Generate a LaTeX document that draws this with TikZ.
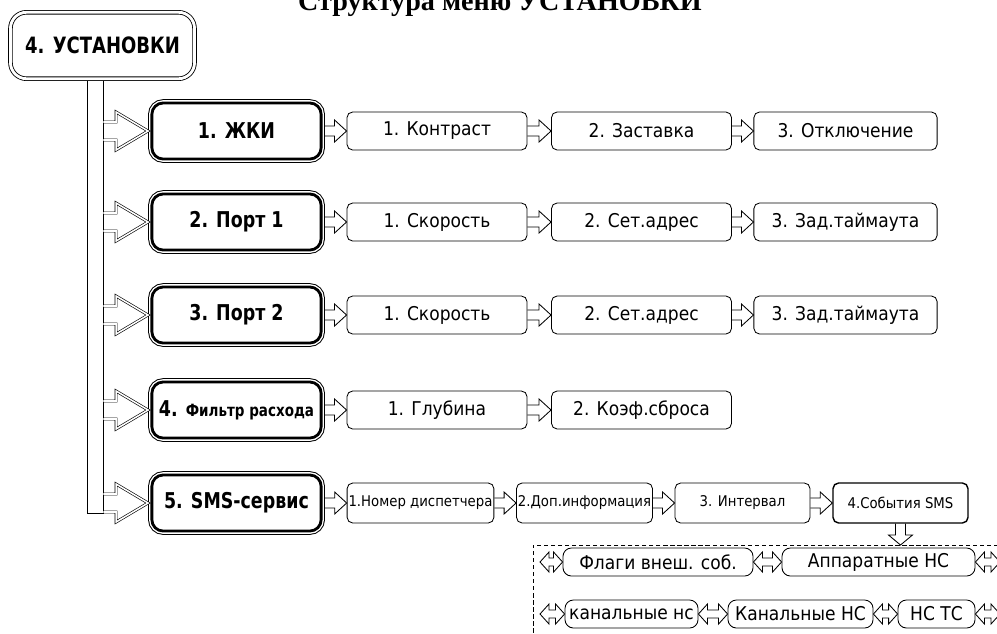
\documentclass[tikz,border=0pt]{standalone}
\usepackage{fontspec}
\newfontfamily\boxfont{DejaVu Sans}[FakeStretch=0.9]
\newfontfamily\headfont{DejaVu Sans}[FakeStretch=0.8]
\newfontfamily\titlefont{Liberation Serif}
\usetikzlibrary{calc}
\tikzset{
  rootbox/.style={draw, double, double distance=2pt, line width=0.6pt, fill=white,
    rounded corners=0.4cm, minimum width=4.6cm, minimum height=1.66cm,
    font=\headfont\bfseries\fontsize{16}{19}\selectfont},
  pipe/.style={draw, line width=0.6pt, fill=white, inner sep=0pt,
    minimum width=0.4cm, minimum height=10.85cm},
  mainbox/.style={draw, fill=white, line width=2pt, rounded corners=8pt, outer sep=2.7pt,
    minimum width=4.23cm, minimum height=1.4cm, inner sep=1pt,
    preaction={draw, line width=5.4pt}, preaction={draw=white, line width=4pt},
    font=\headfont\bfseries\fontsize{15.5}{18}\selectfont},
  subbox/.style={draw, fill=white, line width=0.6pt, rounded corners=4pt,
    minimum width=4.5cm, minimum height=0.95cm, inner sep=1pt,
    font=\boxfont\fontsize{13.5}{16}\selectfont},
  smsbox/.style={subbox, minimum width=3.375cm, minimum height=1cm,
    font=\boxfont\fontsize{10.5}{12}\selectfont},
  evbox/.style={subbox, rounded corners=6pt, minimum height=0.7cm, inner sep=0pt},
  fat/.style={draw, double, double distance=1.1pt, line width=0.45pt,
    to path={($(\tikztostart)+(0,9)$) -- ($(\tikztotarget)+(-32,9)$)
      -- ($(\tikztotarget)+(-32,19)$) -- (\tikztotarget) -- ($(\tikztotarget)+(-32,-19)$)
      -- ($(\tikztotarget)+(-32,-9)$) -- ($(\tikztostart)+(0,-9)$)}},
  slim/.style={draw, line width=0.6pt,
    to path={($(\tikztostart)+(0,5)$) -- ($(\tikztotarget)+(-12,5)$)
      -- ($(\tikztotarget)+(-12,11)$) -- (\tikztotarget) -- ($(\tikztotarget)+(-12,-11)$)
      -- ($(\tikztotarget)+(-12,-5)$) -- ($(\tikztostart)+(0,-5)$)}},
  both/.style={draw, line width=0.6pt,
    to path={-- ($(\tikztostart)+(9,10)$) -- ($(\tikztostart)+(9,4)$)
      -- ($(\tikztotarget)+(-9,4)$) -- ($(\tikztotarget)+(-9,10)$) -- (\tikztotarget)
      -- ($(\tikztotarget)+(-9,-10)$) -- ($(\tikztotarget)+(-9,-4)$)
      -- ($(\tikztostart)+(9,-4)$) -- ($(\tikztostart)+(9,-10)$) -- cycle}},
  down/.style={draw, line width=0.6pt,
    to path={($(\tikztostart)+(-5,0)$) -- ($(\tikztotarget)+(-5,-10)$)
      -- ($(\tikztotarget)+(-12,-10)$) -- (\tikztotarget) -- ($(\tikztotarget)+(12,-10)$)
      -- ($(\tikztotarget)+(5,-10)$) -- ($(\tikztostart)+(5,0)$)}}
}
\begin{document}
\begin{tikzpicture}[x=0.025cm, y=-0.025cm]
    \useasboundingbox (0,0) rectangle (997,633);
    \node[font=\titlefont\bfseries\fontsize{20}{24}\selectfont, anchor=base] (title) at (500,10) {Структура меню УСТАНОВКИ};

    \node[pipe, anchor=north] (bar) at (95,79) {};
    \node[rootbox] (root) at (102.5,45.5) {4. УСТАНОВКИ};

    \node[mainbox] (lcd) at (236.5,131) {1. ЖКИ};
    \node[mainbox] (port1) at (236.5,222) {2. Порт 1};
    \node[mainbox] (port2) at (236.5,315) {3. Порт 2};
    \node[mainbox] (filter) at (236.5,410) {4. {\fontsize{12}{14}\selectfont Фильтр расхода}};
    \node[mainbox] (sms) at (236.5,503) {5. SMS-сервис};
    \foreach \m in {lcd,port1,port2,filter,sms}
        \draw[fat] (bar.east |- \m.west) to (\m.west);

    \node[subbox] (lcd1) at (437,131) {1. Контраст};
    \node[subbox] (lcd2) at (641.5,131) {2. Заставка};
    \node[subbox, minimum width=4.58cm] (lcd3) at (845.5,131) {3. Отключение};
    \node[subbox] (porta1) at (437,222) {1. Скорость};
    \node[subbox] (porta2) at (641.5,222) {2. Сет.адрес};
    \node[subbox, minimum width=4.58cm] (porta3) at (845.5,222) {3. Зад.таймаута};
    \node[subbox] (portb1) at (437,315) {1. Скорость};
    \node[subbox] (portb2) at (641.5,315) {2. Сет.адрес};
    \node[subbox, minimum width=4.58cm] (portb3) at (845.5,315) {3. Зад.таймаута};
    \node[subbox] (filter1) at (437,410) {1. Глубина};
    \node[subbox] (filter2) at (641.5,410) {2. Коэф.сброса};
    \draw[slim] (lcd.east) to (lcd1.west);
    \draw[slim] (lcd1.east) to (lcd2.west);
    \draw[slim] (lcd2.east) to (lcd3.west);
    \draw[slim] (port1.east) to (porta1.west);
    \draw[slim] (porta1.east) to (porta2.west);
    \draw[slim] (porta2.east) to (porta3.west);
    \draw[slim] (port2.east) to (portb1.west);
    \draw[slim] (portb1.east) to (portb2.west);
    \draw[slim] (portb2.east) to (portb3.west);
    \draw[slim] (filter.east) to (filter1.west);
    \draw[slim] (filter1.east) to (filter2.west);

    \node[smsbox, minimum width=3.625cm] (sms1) at (420.5,503) {1.Номер диспетчера};
    \node[smsbox] (sms2) at (584.5,503) {2.Доп.информация};
    \node[smsbox] (sms3) at (742.5,503) {3. Интервал};
    \node[smsbox, line width=1pt] (sms4) at (900.5,503) {4.События SMS};
    \draw[slim] (sms.east) to (sms1.west);
    \draw[slim] (sms1.east) to (sms2.west);
    \draw[slim] (sms2.east) to (sms3.west);
    \draw[slim] (sms3.east) to (sms4.west);

    \draw[dashed, line width=0.6pt, dash pattern=on 3pt off 2pt] (1005,545) -- (533,545) -- (533,645);
    \coordinate (dashtop) at (533,545);
    \draw[down] (sms4.south) to (sms4.south |- dashtop);

    \node[evbox, minimum width=4.75cm] (flags) at (658,562) {Флаги внеш. соб.};
    \node[evbox, minimum width=4.825cm] (hwalarm) at (878.5,562) {Аппаратные НС};
    \node[evbox, minimum width=3.325cm] (chlow) at (631.5,614) {канальные нс};
    \node[evbox, minimum width=3.625cm] (chup) at (800.5,614) {Канальные НС};
    \node[evbox, minimum width=1.925cm] (nsts) at (936.5,614) {НС ТС};
    \coordinate (a0) at (540,562);
    \coordinate (a9) at (1000,562);
    \coordinate (b0) at (540,614);
    \coordinate (b9) at (1000,614);
    \draw[both] (a0) to (flags.west);
    \draw[both] (flags.east) to (hwalarm.west);
    \draw[both] (hwalarm.east) to (a9);
    \draw[both] (b0) to (chlow.west);
    \draw[both] (chlow.east) to (chup.west);
    \draw[both] (chup.east) to (nsts.west);
    \draw[both] (nsts.east) to (b9);
\end{tikzpicture}
\end{document}
